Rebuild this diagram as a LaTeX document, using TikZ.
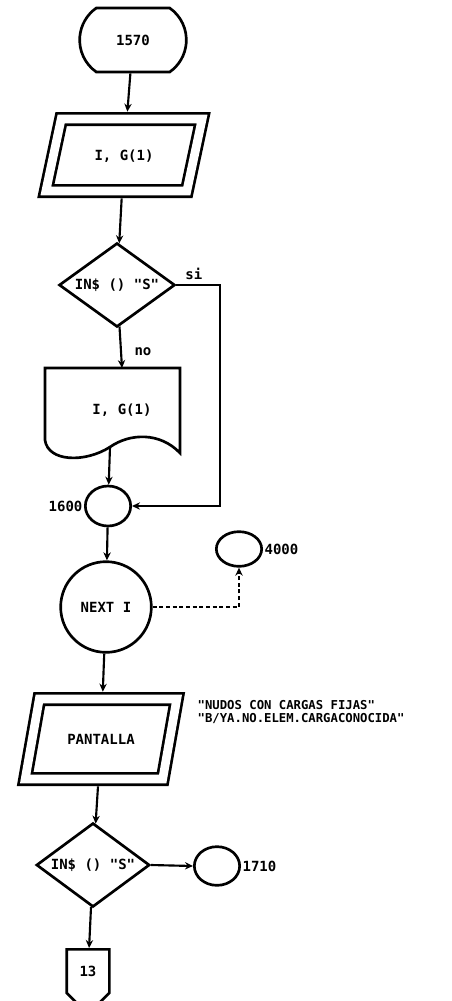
\documentclass[tikz,border=0pt]{standalone}
\usepackage{fontspec}
\setmonofont{DejaVu Sans Mono}
\usetikzlibrary{
    shapes.geometric,
    shapes.misc,
    shapes.symbols,
    positioning,
    arrows.meta
}
\tikzset{
    >={Stealth[length=6pt,width=5.5pt]},
    every node/.style={
        font=\ttfamily\bfseries\fontsize{10.5}{12}\selectfont
    },
    bloque/.style={
        draw,
        line width=2pt,
        inner sep=0pt
    },
    terminal/.style={
        bloque,
        rounded rectangle,
        rounded rectangle arc length=110,
        minimum width=80pt,
        minimum height=48pt
    },
    entrada/.style={
        bloque,
        trapezium,
        trapezium left angle=78,
        trapezium right angle=102,
        double,
        double distance=6.5pt,
        outer sep=5.5pt
    },
    decision/.style={
        bloque,
        diamond,
        aspect=1.4
    },
    conector/.style={
        bloque,
        ellipse,
        minimum width=34pt,
        minimum height=30pt
    },
    pagina/.style={
        bloque,
        signal,
        signal to=south,
        minimum width=32pt,
        minimum height=39pt
    },
    flecha/.style={
        ->,
        line width=1.6pt
    }
}

\begin{document}
\begin{tikzpicture}[
    x=0.75pt,
    y=-0.75pt
]
    \useasboundingbox (0,0) rectangle (452,1001);

    % Bloques
    \node[terminal]  (t1570) at (133,40)  {1570};
    \node[entrada, inner xsep=25pt, text height=31pt, text depth=23pt]
                     (lee1)  at (124,155) {I, G(1)};
    \node[decision, minimum width=87pt, minimum height=63pt]
                     (pr1)   at (117,285) {IN\$ () "S"};
    \node            (doc)   at (122,410) {I, G(1)};
    \coordinate      (docb)  at (110,447);
    \node[conector, label={[inner sep=1pt]left:1600}]
                     (c1600) at (108,506) {};
    \node[conector, minimum height=26pt, label={[inner sep=1pt]right:4000}]
                     (c4000) at (239,549) {};
    \node[bloque, circle, minimum size=68pt]
                     (next)  at (106,607) {NEXT I};
    \node[entrada, trapezium left angle=80, trapezium right angle=100,
          inner xsep=21pt, text height=34pt, text depth=26pt]
                     (pant)  at (101,739) {PANTALLA};
    \node[anchor=west, align=left, font=\ttfamily\bfseries\fontsize{9.2}{9.8}\selectfont]
                     (msg)   at (193,712) {"NUDOS CON CARGAS FIJAS"\\"B/YA.NO.ELEM.CARGACONOCIDA"};
    \node[decision, minimum width=85pt, minimum height=63pt]
                     (pr2)   at (93,865)  {IN\$ () "S"};
    \node[conector, minimum height=29pt, label={[inner sep=1pt]right:1710}]
                     (c1710) at (217,866) {};
    \node[pagina, anchor=north]
                     (p13)   at (88,948)  {13};
    \coordinate      (esq)   at (220,290);

    % Documento
    \draw[line width=2pt]
        (45,368) -- (45,440)
        .. controls (48,462) and (85,463) .. (110,447)
        .. controls (130,433) and (160,432) .. (180,453)
        -- (180,368) -- cycle;

    % Conectores
    \draw[flecha] (t1570) -- (lee1);
    \draw[flecha] (lee1) -- (pr1);
    \draw[flecha] (pr1) -- node[right=6pt, pos=.6] {no} (doc.north |- 0,368);
    \draw[flecha] (pr1.east) -- node[above, pos=.4] {si} (pr1.east -| esq) |- (c1600.east);
    \draw[flecha] (docb) -- (c1600);
    \draw[flecha] (c1600) -- (next);
    \draw[flecha, dash pattern=on 3pt off 2pt] (next.east) -| (c4000.south);
    \draw[flecha] (next) -- (pant);
    \draw[flecha] (pant) -- (pr2);
    \draw[flecha] (pr2.east) -- (c1710.west);
    \draw[flecha] (pr2) -- (p13);

\end{tikzpicture}
\end{document}
